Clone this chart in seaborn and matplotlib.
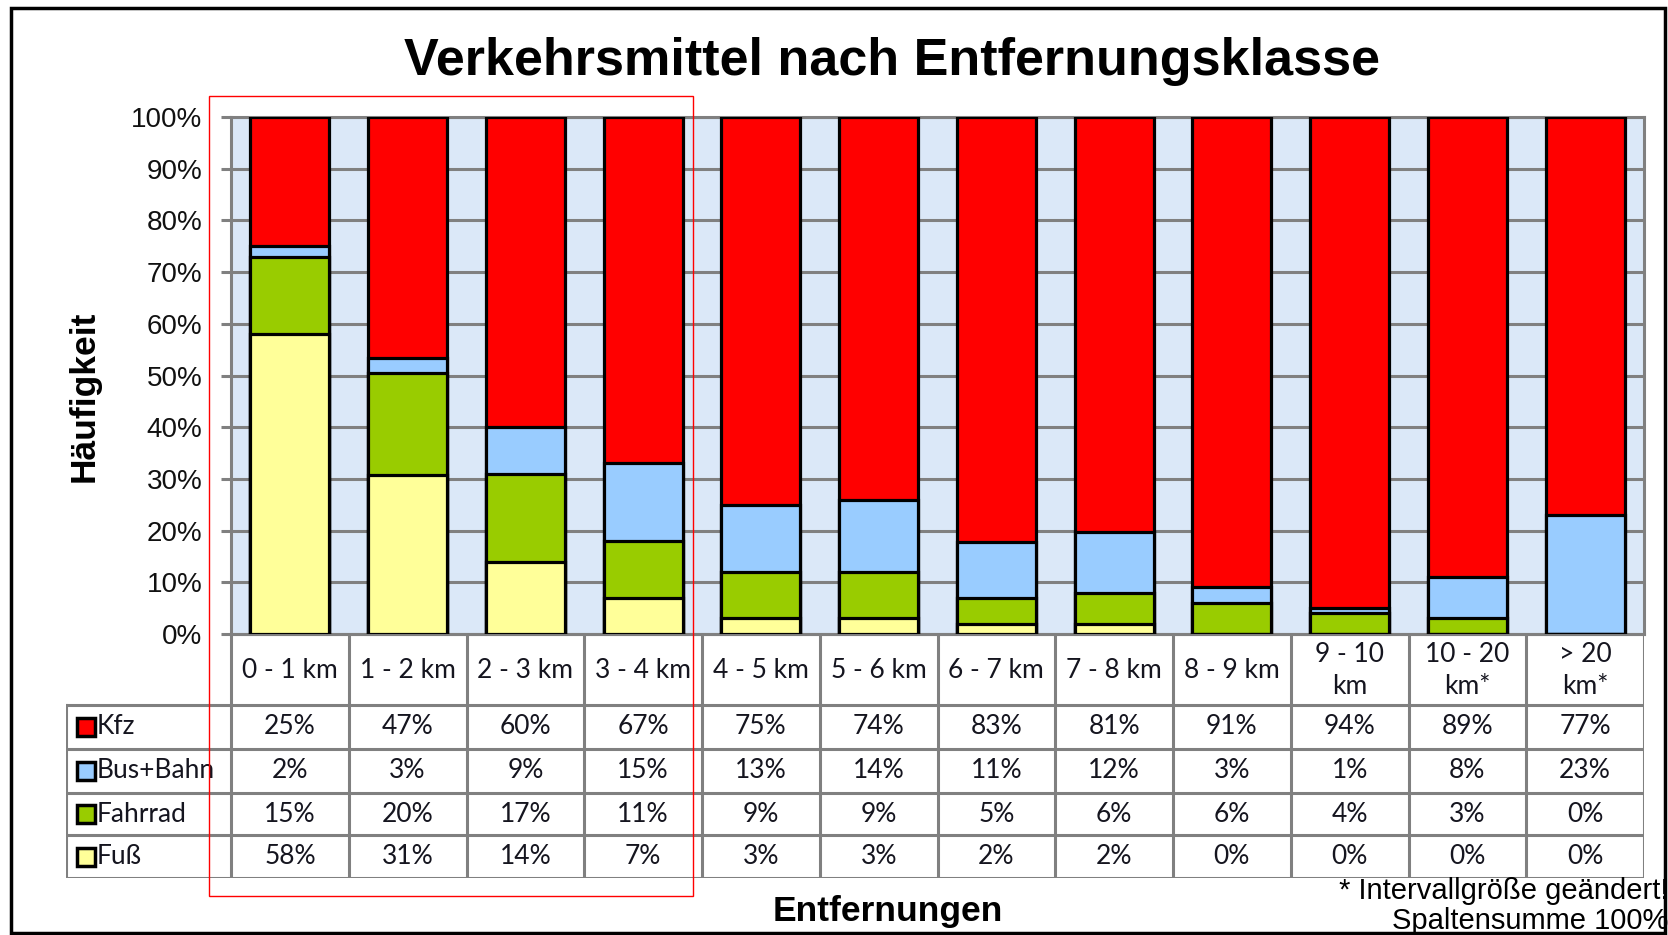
import numpy as np
import pandas as pd
import matplotlib
matplotlib.use("Agg")
import matplotlib.pyplot as plt
from matplotlib.patches import Rectangle
import seaborn as sns

# ---------------- data ----------------
categories = ["0 - 1 km", "1 - 2 km", "2 - 3 km", "3 - 4 km", "4 - 5 km", "5 - 6 km",
              "6 - 7 km", "7 - 8 km", "8 - 9 km", "9 - 10\nkm", "10 - 20\nkm*", "> 20\nkm*"]
kfz = [25, 47, 60, 67, 75, 74, 83, 81, 91, 94, 89, 77]
bus_bahn = [2, 3, 9, 15, 13, 14, 11, 12, 3, 1, 8, 23]
fahrrad = [15, 20, 17, 11, 9, 9, 5, 6, 6, 4, 3, 0]
fuss = [58, 31, 14, 7, 3, 3, 2, 2, 0, 0, 0, 0]
series_names = ["Kfz", "Bus+Bahn", "Fahrrad", "Fuß"]
series_colors = ["#FF0000", "#99CCFF", "#99CC00", "#FFFF99"]
ytick_values = [0, 10, 20, 30, 40, 50, 60, 70, 80, 90, 100]
title = "Verkehrsmittel nach Entfernungsklasse"
ylabel = "Häufigkeit"
xlabel = "Entfernungen"
footnote1 = "* Intervallgröße geändert!"
footnote2 = "Spaltensumme 100%"

df = pd.DataFrame({"cat": categories, "Kfz": kfz, "Bus+Bahn": bus_bahn,
                   "Fahrrad": fahrrad, "Fuß": fuss})
tot = df[series_names].sum(axis=1)
share = df[series_names].div(tot, axis=0) * 100
# cumulative tops (stack from bottom: Fuß, Fahrrad, Bus+Bahn, Kfz)
df["top_Fuß"] = share["Fuß"]
df["top_Fahrrad"] = share["Fuß"] + share["Fahrrad"]
df["top_Bus+Bahn"] = df["top_Fahrrad"] + share["Bus+Bahn"]
df["top_Kfz"] = df["top_Bus+Bahn"] + share["Kfz"]

# ---------------- figure ----------------
W, H = 1668, 935
fig = plt.figure(figsize=(W / 100, H / 100), dpi=100)
fig.patch.set_facecolor("white")

def fx(px):
    return px / W

def fy(py):
    return 1 - py / H

grid_c = "#808080"
pl, pr, pt, pb = 231, 1644, 117, 634
ax = fig.add_axes([fx(pl), fy(pb), fx(pr - pl), (pb - pt) / H])
ax.set_facecolor("#DBE8F8")

for name, col in zip(series_names, series_colors):
    sns.barplot(data=df, x="cat", y="top_" + name, order=categories, color=col,
                edgecolor="black", linewidth=2.3, width=0.67, ax=ax, zorder=3,
                saturation=1)

ax.set_xlim(-0.5, len(categories) - 0.5)
ax.set_ylim(0, 100)
ax.set_yticks(ytick_values)
ax.set_yticklabels([f"{v}%" for v in ytick_values], fontsize=20,
                   family="Liberation Sans", color="#111111")
ax.set_xticks([])
ax.set_xlabel("")
ax.set_ylabel("")
ax.yaxis.grid(True, color=grid_c, lw=2.2, zorder=1)
ax.set_axisbelow(True)
ax.tick_params(axis="y", length=7.5, width=2.2, color=grid_c, pad=13)
for s in ax.spines.values():
    s.set_color(grid_c)
    s.set_linewidth(2.2)

# ---------------- data table ----------------
tl, tr, tt, tb = 66, 1644, 634, 878
tax = fig.add_axes([fx(tl), fy(tb), fx(tr - tl), (tb - tt) / H])
unit = (pr - pl) / len(categories)
x_left = -0.5 - (pl - tl) / unit
tax.set_xlim(x_left, len(categories) - 0.5)
tax.set_ylim(tb - tt, 0)
tax.axis("off")

rows_y = [0, 71, 115, 159, 201, 244]
lw_t = 2.2
n = len(categories)
# horizontal lines
tax.plot([-0.5, n - 0.5], [rows_y[0]] * 2, color=grid_c, lw=lw_t, solid_capstyle="projecting")
for yv in rows_y[1:]:
    tax.plot([x_left, n - 0.5], [yv, yv], color=grid_c, lw=lw_t, solid_capstyle="projecting")
# vertical lines
for k in range(n + 1):
    tax.plot([-0.5 + k] * 2, [rows_y[0], rows_y[-1]], color=grid_c, lw=lw_t,
             solid_capstyle="projecting")
tax.plot([x_left] * 2, [rows_y[1], rows_y[-1]], color=grid_c, lw=lw_t,
         solid_capstyle="projecting")

tfont = dict(family="Lato", fontsize=19, color="#15151f")
for i, c in enumerate(categories):
    tax.text(i, (rows_y[0] + rows_y[1]) / 2 + 1, c, ha="center", va="center",
             linespacing=1.3, **tfont)

series_vals = [kfz, bus_bahn, fahrrad, fuss]
for r, (name, col, vals) in enumerate(zip(series_names, series_colors, series_vals)):
    yc = (rows_y[r + 1] + rows_y[r + 2]) / 2
    for i, v in enumerate(vals):
        tax.text(i, yc, f"{v}%", ha="center", va="center", **tfont)
    kx = x_left + 11 / unit
    kw = 18 / unit
    tax.add_patch(Rectangle((kx, yc - 9), kw, 18, facecolor=col,
                            edgecolor="black", lw=2.5))
    tax.text(kx + kw + 2 / unit, yc, name, ha="left", va="center", **tfont)

# ---------------- texts ----------------
fig.text(fx(892), fy(62), title, ha="center", va="center", fontsize=37.5,
         fontweight="bold", family="Liberation Sans")
fig.text(fx(84), fy(396), ylabel, ha="center", va="center", rotation=90,
         fontsize=25.5, fontweight="bold", family="Liberation Sans")
fig.text(fx(888), fy(911), xlabel, ha="center", va="center", fontsize=25.5,
         fontweight="bold", family="Liberation Sans")
fig.text(fx(1668), fy(891), footnote1, ha="right", va="center", fontsize=21,
         family="Liberation Sans")
fig.text(fx(1668), fy(921), footnote2, ha="right", va="center", fontsize=21,
         family="Liberation Sans")

# frame and red highlight box
fig.add_artist(Rectangle((fx(11), fy(933)), fx(1665 - 11), (933 - 8) / H,
                         transform=fig.transFigure, fill=False, ec="black", lw=2.5))
fig.add_artist(Rectangle((fx(208.5), fy(896)), fx(692.5 - 208.5), (896 - 96) / H,
                         transform=fig.transFigure, fill=False, ec="#FF0000", lw=1))

fig.savefig("out.png", dpi=100)
